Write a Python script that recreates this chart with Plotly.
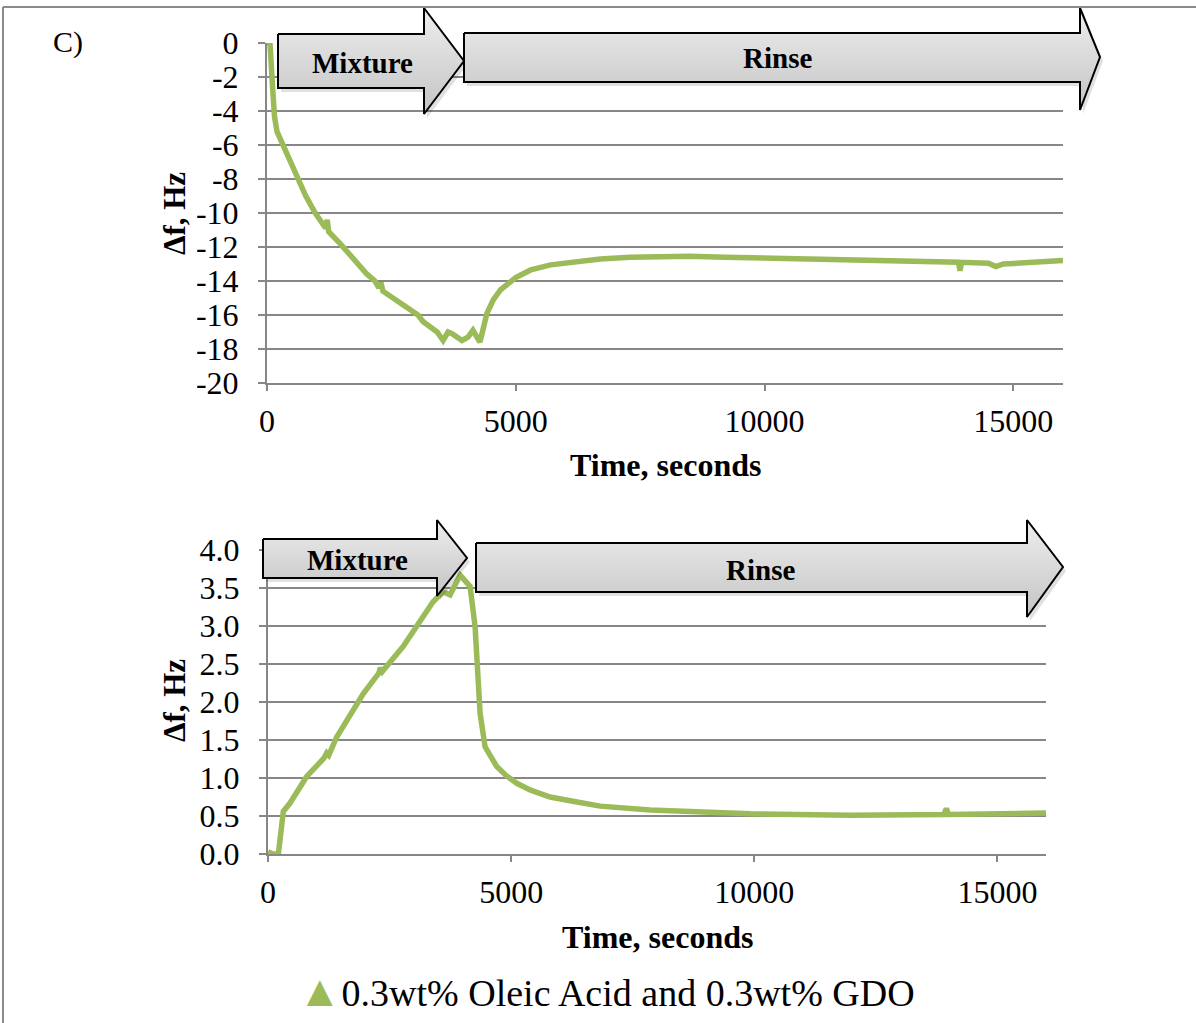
import plotly.graph_objects as go

# ---- data -----------------------------------------------------------------
# Frequency shift during mixture adsorption and subsequent rinse
time_top = [0, 60, 110, 150, 200, 320, 450, 600, 780, 970, 1100, 1180, 1210,
            1240, 1470, 1670, 2010, 2170, 2250, 2290, 2330, 2680, 3035, 3140,
            3420, 3540, 3640, 3720, 3920, 4040, 4140, 4200, 4280, 4330, 4420,
            4550, 4700, 5000, 5300, 5700, 6200, 6700, 7300, 7800, 8500, 9200,
            10000, 10700, 11500, 12300, 13000, 13900, 13930, 13960, 14500,
            14650, 14800, 15400, 16000]
df_top = [0, 0, -2.5, -4.3, -5.2, -6.0, -7.0, -8.0, -9.0, -10.0, -10.6, -10.9,
          -10.4, -11.1, -11.8, -12.5, -13.6, -14.0, -14.4, -14.1, -14.6, -15.3,
          -16.0, -16.4, -17.0, -17.5, -17.0, -17.1, -17.5, -17.3, -16.9, -17.2,
          -17.6, -17.0, -15.9, -15.1, -14.5, -13.8, -13.35, -13.05, -12.85,
          -12.7, -12.6, -12.55, -12.55, -12.6, -12.65, -12.7, -12.75, -12.8,
          -12.85, -12.9, -13.4, -12.9, -12.95, -13.15, -13.0, -12.9, -12.8]

# Second response of the same run
time_bot = [0, 100, 213, 260, 315, 453, 796, 1150, 1207, 1250, 1413, 1961,
            2280, 2310, 2350, 2778, 3395, 3601, 3745, 3951, 4156, 4259, 4362,
            4465, 4705, 4900, 5117, 5400, 5802, 6300, 6831, 7860, 9918, 11975,
            13900, 13950, 14000, 16000]
df_bot = [0.03, 0.0, 0.0, 0.3, 0.56, 0.67, 1.02, 1.26, 1.33, 1.30, 1.54, 2.11,
          2.38, 2.45, 2.40, 2.73, 3.32, 3.45, 3.41, 3.67, 3.52, 2.99, 1.85,
          1.41, 1.15, 1.03, 0.93, 0.84, 0.75, 0.69, 0.63, 0.58, 0.53, 0.51,
          0.52, 0.60, 0.52, 0.54]

x_ticks = [0, 5000, 10000, 15000]
x_tick_text = ["0", "5000", "10000", "15000"]
y_top_ticks = list(range(-20, 1, 2))
y_top_text = [str(v) for v in y_top_ticks]
y_bot_ticks = [0.0, 0.5, 1.0, 1.5, 2.0, 2.5, 3.0, 3.5, 4.0]
y_bot_text = ["%.1f" % v for v in y_bot_ticks]

series_name = "0.3wt% Oleic Acid and 0.3wt% GDO"
stage_labels = ["Mixture", "Rinse"]

# ---- styling --------------------------------------------------------------
W, H = 1196, 1023
FONT = "Liberation Serif"
GREEN = "#9BBB59"
GRID = "#878787"


def px(x):
    return x / W


def py(y):
    return 1 - y / H


axis_common = dict(
    showline=True, linecolor=GRID, linewidth=2, mirror=False,
    ticks="outside", tickcolor=GRID, tickwidth=2, automargin=False,
    tickfont=dict(family=FONT, size=32, color="black"),
    zeroline=False, fixedrange=True,
)

fig = go.Figure()

fig.add_trace(go.Scatter(x=time_top, y=df_top, mode="lines",
                         line=dict(color=GREEN, width=5.5),
                         xaxis="x", yaxis="y", showlegend=False))
fig.add_trace(go.Scatter(x=time_bot, y=df_bot, mode="lines",
                         line=dict(color=GREEN, width=5.5),
                         xaxis="x2", yaxis="y2", showlegend=False))


# Stage arrows drawn on a full-page overlay axis (pixel units, y up)
def arrow(x0, xh, x1, ytop, ybot, yhtop, yhbot, ytip):
    xs = [x0, xh, xh, x1, xh, xh, x0, x0]
    ys = [ytop, ytop, yhtop, ytip, yhbot, ybot, ybot, ytop]
    return xs, [H - v for v in ys]


arrows = [
    (278, 424, 464, 34, 88, 8, 114, 61),
    (464, 1080, 1100, 33, 82, 8, 110, 57),
    (263, 437, 467, 539, 578, 520, 596, 558),
    (476, 1027, 1063, 543, 592, 520, 617, 567),
]
for a in arrows:
    xs, ys = arrow(*a)
    fig.add_trace(go.Scatter(x=[v + 3 for v in xs], y=[v - 4 for v in ys],
                             mode="lines", fill="toself",
                             fillcolor="rgba(0,0,0,0.12)",
                             line=dict(width=0), xaxis="x3", yaxis="y3",
                             showlegend=False, hoverinfo="skip"))
    fig.add_trace(go.Scatter(x=xs, y=ys, mode="lines", fill="toself",
                             fillgradient=dict(type="vertical",
                                               colorscale=[[0, "#c4c4c4"],
                                                           [1, "#eeeeee"]]),
                             line=dict(color="black", width=2),
                             xaxis="x3", yaxis="y3",
                             showlegend=False, hoverinfo="skip"))

fig.update_layout(
    width=W, height=H,
    margin=dict(l=0, r=0, t=0, b=0, pad=0, autoexpand=False),
    paper_bgcolor="white", plot_bgcolor="rgba(0,0,0,0)",
    showlegend=False,
    xaxis=dict(domain=[px(267), px(1063)], range=[0, 16000], anchor="y",
               tickvals=x_ticks, ticktext=x_tick_text, showgrid=False,
               ticklen=6, ticklabelstandoff=3, **axis_common),
    yaxis=dict(domain=[py(383), py(43)], range=[-20, 0], anchor="x",
               tickvals=y_top_ticks, ticktext=y_top_text,
               showgrid=True, gridcolor=GRID, gridwidth=2,
               ticklen=7, ticklabelstandoff=13, **axis_common),
    xaxis2=dict(domain=[px(268), px(1046)], range=[0, 16000], anchor="y2",
                tickvals=x_ticks, ticktext=x_tick_text, showgrid=False,
                ticklen=6, ticklabelstandoff=3, **axis_common),
    yaxis2=dict(domain=[py(854), py(550)], range=[0, 4], anchor="x2",
                tickvals=y_bot_ticks, ticktext=y_bot_text,
                showgrid=True, gridcolor=GRID, gridwidth=2,
                ticklen=7, ticklabelstandoff=13, **axis_common),
    xaxis3=dict(domain=[0, 1], range=[0, W], visible=False, anchor="y3",
                fixedrange=True, automargin=False),
    yaxis3=dict(domain=[0, 1], range=[0, H], visible=False, anchor="x3",
                fixedrange=True, automargin=False),
)

# frame lines
fig.add_shape(type="line", xref="paper", yref="paper",
              x0=px(3), x1=1, y0=py(7), y1=py(7),
              line=dict(color="#8a8a8a", width=2))
fig.add_shape(type="line", xref="paper", yref="paper",
              x0=px(3), x1=px(3), y0=py(7), y1=0,
              line=dict(color="#8a8a8a", width=2))

ann = []


def label(text, x, y, size, bold=False, angle=0, color="black"):
    ann.append(dict(text="<b>%s</b>" % text if bold else text,
                    x=px(x), y=py(y), xref="paper", yref="paper",
                    showarrow=False, textangle=angle,
                    xanchor="center", yanchor="middle",
                    font=dict(family=FONT, size=size, color=color)))


label("C)", 68, 42, 30)
label(stage_labels[0], 362, 63, 29, bold=True)
label(stage_labels[1], 777, 58, 29, bold=True)
label(stage_labels[0], 357, 560, 29, bold=True)
label(stage_labels[1], 760, 570, 29, bold=True)
label("Time, seconds", 665, 465, 32, bold=True)
label("Time, seconds", 657, 937, 32, bold=True)
label("Δf, Hz", 174, 213, 31, bold=True, angle=-90)
label("Δf, Hz", 174, 700, 31, bold=True, angle=-90)
label('<span style="color:%s;font-size:44px">▲</span>%s' % (GREEN, series_name),
      606, 991, 38)

fig.update_layout(annotations=ann)

fig.write_html("out.html")
